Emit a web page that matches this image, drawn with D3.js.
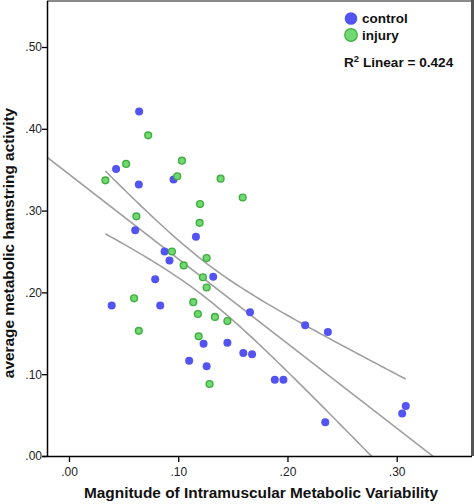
<!DOCTYPE html>
<html>
<head>
<meta charset="utf-8">
<script src="https://cdn.jsdelivr.net/npm/d3@7"></script>
<style>
  html, body { margin: 0; padding: 0; background: #fff; }
  svg { display: block; font-family: "Liberation Sans", Arial, sans-serif; }
</style>
</head>
<body>
<svg id="chart" width="474" height="504"></svg>
<script>
// ---- data ----
const controlX = [0.0642, 0.0431, 0.0957, 0.0639, 0.0606, 0.1162, 0.0875, 0.0920, 0.0789, 0.0391,
                  0.0835, 0.1100, 0.1320, 0.1657, 0.2162, 0.2370, 0.1232, 0.1450, 0.1260, 0.1596,
                  0.1676, 0.1884, 0.1963, 0.2346, 0.3083, 0.3050];
const controlY = [0.421, 0.351, 0.338, 0.332, 0.276, 0.268, 0.250, 0.239, 0.216, 0.184,
                  0.184, 0.1165, 0.219, 0.1756, 0.1597, 0.1516, 0.1373, 0.1386, 0.1096, 0.1259,
                  0.1243, 0.0933, 0.0933, 0.0412, 0.0611, 0.0521];
const injuryX = [0.0725, 0.0523, 0.1034, 0.0991, 0.0333, 0.1200, 0.1196, 0.0617, 0.0942, 0.1050,
                 0.1388, 0.1590, 0.1260, 0.0596, 0.1138, 0.1180, 0.0639, 0.1187, 0.1226, 0.1260,
                 0.1336, 0.1450, 0.1287];
const injuryY = [0.392, 0.357, 0.361, 0.342, 0.337, 0.308, 0.285, 0.293, 0.250, 0.233,
                 0.339, 0.316, 0.242, 0.1928, 0.188, 0.1736, 0.153, 0.1463, 0.2185, 0.206,
                 0.170, 0.165, 0.088];
const groups = ["control", "injury"];
const xTicks = [0, 0.1, 0.2, 0.3];
const yTicks = [0, 0.1, 0.2, 0.3, 0.4, 0.5];
const xTitle = "Magnitude of Intramuscular Metabolic Variability";
const yTitle = "average metabolic hamstring activity";
const r2Label = "Linear = 0.424";

// ---- layout ----
const svg = d3.select("#chart");
const plot = { left: 47, right: 472, top: 1, bottom: 456 };
const x = d3.scaleLinear().domain([0, 0.3]).range([69, 396.7]);
const y = d3.scaleLinear().domain([0, 0.5]).range([456, 47]);
const fmt = d => d3.format(".2f")(d).replace(/^0/, "");

const colors = {
  control: { fill: "#5353f2", stroke: "#5353f2" },
  injury: { fill: "#72d872", stroke: "#3fae3f" }
};

svg.append("defs").append("clipPath").attr("id", "clip")
  .append("rect")
  .attr("x", plot.left).attr("y", plot.top)
  .attr("width", plot.right - plot.left).attr("height", plot.bottom - plot.top);

// frame (top / right)
svg.append("line").attr("x1", plot.left).attr("x2", 474).attr("y1", 1).attr("y2", 1)
  .attr("stroke", "#8a8a8a").attr("stroke-width", 2);
svg.append("line").attr("x1", 472.5).attr("x2", 472.5).attr("y1", 0).attr("y2", plot.bottom)
  .attr("stroke", "#555").attr("stroke-width", 3);

// ---- regression (computed from the points) ----
const allX = controlX.concat(injuryX);
const allY = controlY.concat(injuryY);
const n = allX.length;
const xbar = d3.mean(allX), ybar = d3.mean(allY);
let sxx = 0, sxy = 0;
for (let i = 0; i < n; i++) { sxx += (allX[i] - xbar) ** 2; sxy += (allX[i] - xbar) * (allY[i] - ybar); }
const b = sxy / sxx, a = ybar - b * xbar;
let sse = 0;
for (let i = 0; i < n; i++) sse += (allY[i] - (a + b * allX[i])) ** 2;
const s = Math.sqrt(sse / (n - 2));
const tcrit = 2.012;
const half = xv => tcrit * s * Math.sqrt(1 / n + (xv - xbar) ** 2 / sxx);

const gLines = svg.append("g").attr("clip-path", "url(#clip)");
const line = d3.line().x(d => x(d[0])).y(d => y(d[1]));
const x0 = x.invert(plot.left), x1 = x.invert(plot.right);
gLines.append("path").datum([[x0, a + b * x0], [x1, a + b * x1]])
  .attr("d", line).attr("fill", "none").attr("stroke", "#a0a0a0").attr("stroke-width", 1.6);
const xmin = d3.min(allX), xmax = d3.max(allX);
const xs = d3.range(0, 101).map(i => xmin + (xmax - xmin) * i / 100);
gLines.append("path").datum(xs.map(v => [v, a + b * v + half(v)]))
  .attr("d", line).attr("fill", "none").attr("stroke", "#a0a0a0").attr("stroke-width", 1.6);
gLines.append("path").datum(xs.map(v => [v, a + b * v - half(v)]))
  .attr("d", line).attr("fill", "none").attr("stroke", "#a0a0a0").attr("stroke-width", 1.6);

// ---- points ----
const pts = controlX.map((v, i) => ({ g: "control", x: v, y: controlY[i] }))
  .concat(injuryX.map((v, i) => ({ g: "injury", x: v, y: injuryY[i] })));
svg.append("g").selectAll("circle").data(pts).join("circle")
  .attr("cx", d => x(d.x)).attr("cy", d => y(d.y)).attr("r", d => d.g === "control" ? 4 : 3.4)
  .attr("fill", d => colors[d.g].fill)
  .attr("stroke", d => colors[d.g].stroke)
  .attr("stroke-width", d => d.g === "control" ? 0 : 1.4);

// ---- axes ----
const xAxis = svg.append("g").attr("transform", `translate(0,${plot.bottom})`)
  .call(d3.axisBottom(x).tickValues(xTicks).tickFormat(fmt).tickSize(6).tickSizeOuter(0));
xAxis.select(".domain").attr("d", `M${plot.left - 5},0.5H${plot.right}`).attr("stroke", "#000").attr("stroke-width", 1.5);
xAxis.selectAll(".tick line").attr("stroke", "#000").attr("stroke-width", 1.3);
xAxis.selectAll(".tick text").attr("font-size", 12).attr("fill", "#222").attr("dy", "0.9em")
  .attr("font-family", "Liberation Sans, Arial, sans-serif");

const yAxis = svg.append("g").attr("transform", `translate(${plot.left},0)`)
  .call(d3.axisLeft(y).tickValues(yTicks).tickFormat(fmt).tickSize(5).tickSizeOuter(0));
yAxis.select(".domain").attr("d", `M0.5,${plot.top}V${plot.bottom}`).attr("stroke", "#000").attr("stroke-width", 1.5);
yAxis.selectAll(".tick line").attr("stroke", "#000").attr("stroke-width", 1.3);
yAxis.selectAll(".tick text").attr("font-size", 12).attr("fill", "#222").attr("x", -5)
  .attr("font-family", "Liberation Sans, Arial, sans-serif");

// titles
svg.append("text").attr("x", 261).attr("y", 498).attr("text-anchor", "middle")
  .attr("font-size", 15.4).attr("font-weight", "bold").attr("fill", "#111").text(xTitle);
svg.append("text").attr("transform", "translate(14,243) rotate(-90)").attr("text-anchor", "middle")
  .attr("font-size", 15.4).attr("font-weight", "bold").attr("fill", "#111").text(yTitle);

// ---- legend ----
const leg = svg.append("g");
groups.forEach((gname, i) => {
  const cy = 18.5 + i * 16.5;
  leg.append("circle").attr("cx", 351).attr("cy", cy).attr("r", 6.3)
    .attr("fill", colors[gname].fill).attr("stroke", colors[gname].stroke)
    .attr("stroke-width", gname === "control" ? 0 : 1.2);
  leg.append("text").attr("x", 362).attr("y", cy + 4.8).attr("font-size", 13.5)
    .attr("font-weight", "bold").attr("fill", "#111").text(gname);
});
const r2 = leg.append("text").attr("x", 344).attr("y", 67).attr("font-size", 13.6)
  .attr("font-weight", "bold").attr("fill", "#111");
r2.append("tspan").text("R");
r2.append("tspan").attr("dy", -5).attr("font-size", 9.5).text("2");
r2.append("tspan").attr("dy", 5).text(" " + r2Label);
</script>
</body>
</html>
